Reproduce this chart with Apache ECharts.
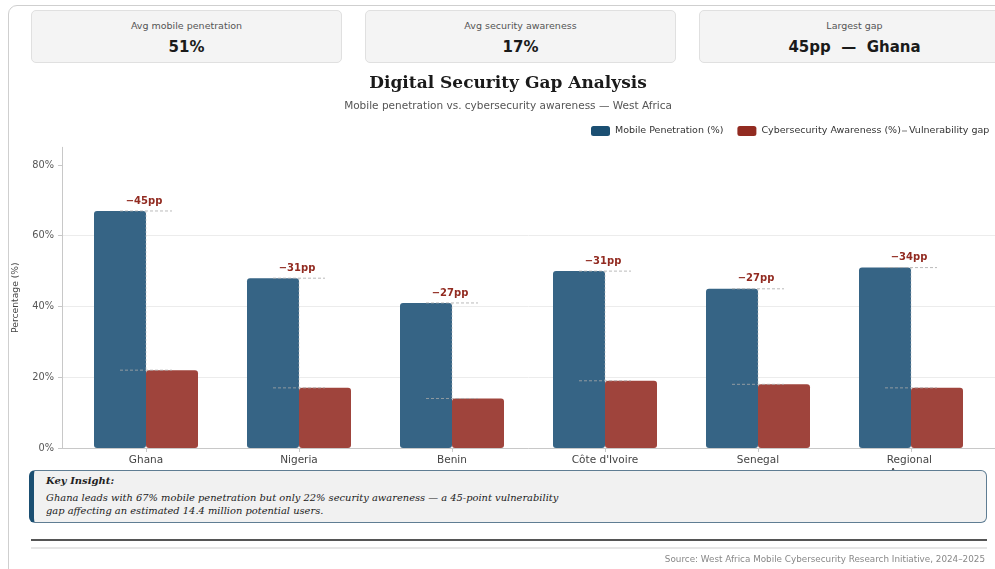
<!DOCTYPE html>
<html><head><meta charset="utf-8">
<script src="https://cdn.jsdelivr.net/npm/echarts@6/dist/echarts.min.js"></script>
<style>
html,body{margin:0;padding:0;width:995px;height:569px;overflow:hidden;background:#fff;font-family:'DejaVu Sans',sans-serif;}
#frame{position:absolute;left:8px;top:5px;width:1100px;height:700px;border:1.5px solid #cfcfcf;border-radius:9px;box-sizing:border-box;}
.card{position:absolute;top:10px;height:53px;width:311px;background:#f4f4f4;border:1px solid #e0e0e0;border-radius:5px;box-sizing:border-box;text-align:center;}
.card .lab{position:absolute;left:0;right:0;top:9px;font-size:9.5px;line-height:12px;color:#555;}
.card .val{position:absolute;left:0;right:0;top:27px;font-size:15px;line-height:18px;font-weight:bold;color:#1a1a1a;}
#chart{position:absolute;left:0;top:0;width:995px;height:569px;}
#insight{position:absolute;left:29px;top:470px;width:958px;height:53px;box-sizing:border-box;background:#f1f1f1;border:1px solid #5f7d93;border-left:5px solid #1b4f72;border-radius:6px;font-family:'DejaVu Serif',serif;font-style:italic;color:#222;z-index:5;}
#insight .kt{position:absolute;left:12px;top:4px;font-size:10px;line-height:12px;font-weight:bold;}
#insight .tx{position:absolute;left:12px;top:20px;font-size:9.9px;line-height:13px;}
#hr1{position:absolute;left:31px;top:539px;width:956px;height:1.5px;background:#555;}
#hr2{position:absolute;left:31px;top:547px;width:956px;height:2px;background:#e6e6e6;}
#src{position:absolute;right:10px;top:554px;font-size:8.8px;line-height:11px;color:#888;}
</style></head>
<body>
<div id="frame"></div>
<div class="card" style="left:31px"><div class="lab">Avg mobile penetration</div><div class="val">51%</div></div>
<div class="card" style="left:365px"><div class="lab">Avg security awareness</div><div class="val">17%</div></div>
<div class="card" style="left:699px"><div class="lab">Largest gap</div><div class="val">45pp&nbsp;&nbsp;—&nbsp;&nbsp;Ghana</div></div>
<div id="chart"></div>
<div id="insight"><div class="kt">Key Insight:</div><div class="tx">Ghana leads with 67% mobile penetration but only 22% security awareness — a 45-point vulnerability<br>gap affecting an estimated 14.4 million potential users.</div></div>
<div id="hr1"></div><div id="hr2"></div>
<div id="src">Source: West Africa Mobile Cybersecurity Research Initiative, 2024–2025</div>
<script>
const categories = ['Ghana', 'Nigeria', 'Benin', "Côte d'Ivoire", 'Senegal', 'Regional Average'];
const mobilePenetration = [67, 48, 41, 50, 45, 51];
const securityAwareness = [22, 17, 14, 19, 18, 17];
const gapPoints = [45, 31, 27, 31, 27, 34];
const yTicks = [0, 20, 40, 60, 80];

const BAR_W = 52;
const gapData = categories.map((c, i) => [i, mobilePenetration[i], securityAwareness[i], gapPoints[i]]);

const chart = echarts.init(document.getElementById('chart'), null, {renderer: 'canvas'});
const option = {
  animation: false,
  textStyle: {fontFamily: 'DejaVu Sans'},
  graphic: [
    {type: 'text', x: 508, y: 84, style: {text: 'Digital Security Gap Analysis', align: 'center', verticalAlign: 'middle', font: 'bold 17px "DejaVu Serif"', fill: '#1a1a1a'}},
    {type: 'text', x: 508, y: 106, style: {text: 'Mobile penetration vs. cybersecurity awareness — West Africa', align: 'center', verticalAlign: 'middle', font: '10.5px "DejaVu Sans"', fill: '#555'}}
  ],
  legend: [
    {left: 591, top: 126, padding: 0, itemWidth: 19, itemHeight: 10, itemGap: 14,
     textStyle: {fontSize: 9.5, color: '#333'},
     data: [{name: 'Mobile Penetration (%)', itemStyle: {color: '#1b4f72'}},
            {name: 'Cybersecurity Awareness (%)', itemStyle: {color: '#922b21'}}]},
    {left: 902, top: 126, padding: 0, itemWidth: 5, itemHeight: 10,
     textStyle: {fontSize: 9.5, color: '#333', padding: [0, 0, 0, -3]},
     data: [{name: 'Vulnerability gap', icon: 'path://M0,0H10V1.4H0Z', itemStyle: {color: '#444'}}]}
  ],
  grid: [
    {left: 62, right: 0, top: 147.3, bottom: 121},
    {left: 69.5, width: 918, top: 147.3, bottom: 121}
  ],
  xAxis: [
    {type: 'value', gridIndex: 0, min: 0, max: 1, axisLine: {show: true, lineStyle: {color: '#c8c8c8'}}, axisTick: {show: false}, axisLabel: {show: false}, splitLine: {show: false}},
    {type: 'category', gridIndex: 1, data: categories, axisLine: {show: false},
     axisTick: {show: true, alignWithLabel: true, length: 4, lineStyle: {color: '#c8c8c8'}},
     axisLabel: {fontSize: 10.5, color: '#444', margin: 6, width: 80, overflow: 'break', lineHeight: 13}}
  ],
  yAxis: [
    {type: 'value', gridIndex: 0, min: 0, max: 85, interval: 20,
     name: 'Percentage (%)', nameLocation: 'middle', nameGap: 42, nameRotate: 90,
     nameTextStyle: {fontSize: 9.2, color: '#444'},
     axisLine: {show: true, lineStyle: {color: '#c8c8c8'}},
     axisTick: {show: true, length: 4, customValues: yTicks, lineStyle: {color: '#c8c8c8'}},
     axisLabel: {customValues: yTicks, formatter: '{value}%', fontSize: 9.8, color: '#555', margin: 8},
     splitLine: {show: true, showMaxLine: false, lineStyle: {color: '#ececec', width: 1}}},
    {type: 'value', gridIndex: 1, min: 0, max: 85, show: false, splitLine: {show: false}}
  ],
  series: [
    {name: 'Mobile Penetration (%)', type: 'bar', xAxisIndex: 1, yAxisIndex: 1, barWidth: BAR_W, barGap: '0%',
     itemStyle: {color: '#366485', borderRadius: 3}, data: mobilePenetration},
    {name: 'Cybersecurity Awareness (%)', type: 'bar', xAxisIndex: 1, yAxisIndex: 1, barWidth: BAR_W, barGap: '0%',
     itemStyle: {color: '#9f443c', borderRadius: 3}, data: securityAwareness},
    {name: 'Vulnerability gap', type: 'custom', xAxisIndex: 1, yAxisIndex: 1, z: 5,
     itemStyle: {color: '#444'},
     data: gapData,
     renderItem: function (params, api) {
       const i = api.value(0), hi = api.value(1), lo = api.value(2), g = api.value(3);
       const pH = api.coord([i, hi]), pL = api.coord([i, lo]);
       const cx = pH[0], off = BAR_W / 2;
       const ls = {stroke: '#a8a8a8', lineWidth: 0.8, lineDash: [3, 2]};
       return {type: 'group', children: [
         {type: 'line', shape: {x1: cx - off, y1: pH[1], x2: cx + off, y2: pH[1]}, style: ls},
         {type: 'line', shape: {x1: cx - off, y1: pL[1], x2: cx + off, y2: pL[1]}, style: ls},
         {type: 'line', shape: {x1: cx, y1: pH[1], x2: cx, y2: pL[1]}, style: {stroke: '#b8b8b8', lineWidth: 0.6, lineDash: [2, 2]}},
         {type: 'text', x: cx - 2, y: pH[1] - 10, style: {text: '\u2212' + g + 'pp', align: 'center', verticalAlign: 'middle', font: 'bold 10px "DejaVu Sans"', fill: '#922b21'}}
       ]};
     }}
  ]
};
chart.setOption(option);
</script>
</body></html>
